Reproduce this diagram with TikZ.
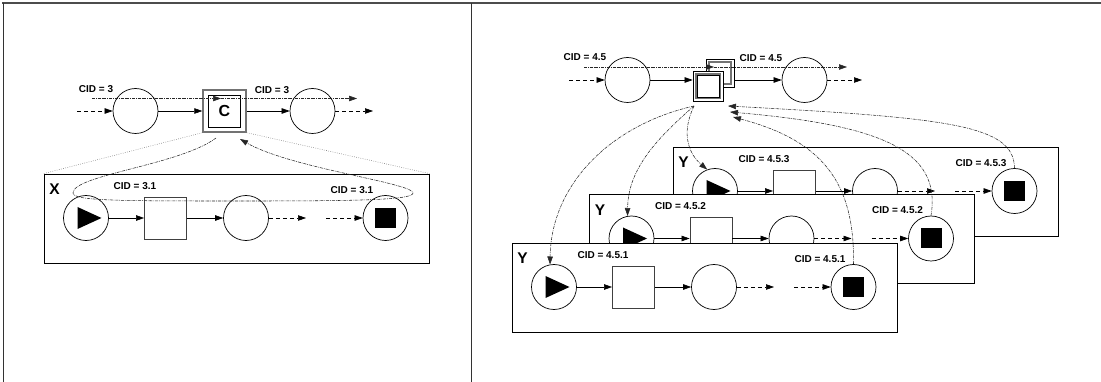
\documentclass[tikz,border=0pt]{standalone}
\usepackage{fontspec}
\setmainfont{Liberation Sans}
\usetikzlibrary{arrows.meta}
\newcommand{\chainbox}[6]{%
\begin{scope}[shift={(#2,#3)}]
\node[panel] (#1-box) at (192.5,44.5) {};
\node[biglbl] (#1-let) at (10.5,15.5) {#4};
\node[lbl] (#1-la) at (91,12) {#5};
\node[lbl] (#1-lb) at (308,16) {#6};
\node[circ] (#1-s) at (42,44) {};
\node[sqr] (#1-q) at (121.5,44) {};
\node[circ] (#1-m) at (202,44) {};
\node[circ] (#1-e) at (341.5,44) {};
\coordinate (#1-d1) at (262,44);
\coordinate (#1-d2) at (282,44);
\fill (33.5,33) -- (57.5,44) -- (33.5,55) -- cycle;
\fill (331,34) rectangle (352,54);
\draw[flow] (#1-s) -- (#1-q);
\draw[flow] (#1-q) -- (#1-m);
\draw[dflow] (#1-m) -- (#1-d1);
\draw[dflow] (#1-d2) -- (#1-e);
\end{scope}}
\begin{document}
\begin{tikzpicture}[x=1pt,y=-1pt,
  arr/.style={-{Triangle[length=8pt,width=5.5pt]}},
  circ/.style={circle,draw,line width=0.7pt,minimum size=45pt,inner sep=0pt},
  sqr/.style={rectangle,draw=black!75,line width=0.8pt,minimum width=42pt,minimum height=42pt,inner sep=0pt},
  panel/.style={rectangle,draw,line width=0.8pt,fill=white,minimum width=385pt,minimum height=89pt,inner sep=0pt},
  lbl/.style={font=\fontsize{10}{12}\selectfont\bfseries,inner sep=0pt},
  biglbl/.style={font=\fontsize{15.5}{17}\selectfont\bfseries,inner sep=0pt},
  flow/.style={line width=0.6pt,arr},
  dflow/.style={line width=0.6pt,arr,dash pattern=on 4pt off 3pt},
  dd/.style={line width=0.55pt,black!85,dash pattern=on 3pt off 1pt on 0.7pt off 1pt},
  dotl/.style={line width=0.5pt,black!55,dash pattern=on 0.7pt off 1.5pt},
  dbox/.style={rectangle,draw,line width=0.7pt,fill=white,inner sep=0pt},
]
\useasboundingbox (0,0) rectangle (1101,382);
% frame
\draw[black!70,line width=1.2pt] (2,3) -- (1101,3);
\draw[black!80,line width=0.8pt] (3,3) -- (3,382);
\draw[black!80,line width=0.8pt] (471,3) -- (471,382);

% ---------- left panel ----------
\node[circ] (L1) at (135.5,111) {};
\node[rectangle,draw=black!55,line width=1.4pt,minimum width=43pt,minimum height=42pt,inner sep=0pt] (C) at (224.5,111) {};
\node[rectangle,draw,line width=0.8pt,minimum size=32pt,inner sep=0pt,font=\fontsize{16}{18}\selectfont\bfseries] (Ci) at (C) {C};
\node[circ] (L2) at (312.5,111) {};
\coordinate (L0) at (77,111);
\coordinate (L3) at (373,111);
\draw[dflow] (L0) -- (L1);
\draw[flow] (L1) -- (C);
\draw[flow] (C) -- (L2);
\draw[dflow] (L2) -- (L3);
\node[lbl] (t1) at (96,89) {CID = 3};
\node[lbl] (t2) at (272,90) {CID = 3};
\coordinate (la) at (92,98.5);
\coordinate (lb) at (221,98.5);
\coordinate (lc) at (357,98.5);
\draw[dd,arr] (la) -- (lb);
\draw[dd,arr] (lb) -- (lc);

\chainbox{X}{44}{174}{X}{CID = 3.1}{CID = 3.1}
\draw[dotl] (C.south west) -- (X-box.north west);
\draw[dotl] (C.south east) -- (X-box.north east);
\coordinate (cout) at (216,138);
\coordinate (cin) at (240,139);
\draw[dd,arr] (cout) .. controls (180,165) and (73,175) .. (73,193)
  .. controls (73,201) and (120,201) .. (243,201)
  .. controls (360,201) and (413,200) .. (413,193)
  .. controls (413,183) and (290,168) .. (cin);

% ---------- right panel ----------
\node[circ] (R1) at (627.5,80) {};
\node[dbox,minimum size=28pt] (B) at (720,73) {};
\node[rectangle,draw=black!55,line width=1.1pt,minimum size=22pt,inner sep=0pt] (Bi) at (B) {};
\node[dbox,minimum size=30pt] (F) at (708,86) {};
\node[rectangle,draw=black!55,line width=1.1pt,minimum size=24pt,inner sep=0pt] (Fi) at (F) {};
\node[rectangle,draw,line width=0.4pt,minimum size=21.5pt,inner sep=0pt] (Fj) at (F) {};
\node[circ] (R2) at (804.5,80) {};
\coordinate (R0) at (569,80);
\coordinate (R3) at (862,80);
\draw[dflow] (R0) -- (R1);
\draw[flow] (R1) -- (R1 -| F.west);
\draw[flow] (R1 -| B.east) -- (R2);
\draw[dflow] (R2) -- (R3);
\node[lbl] (t3) at (585,57) {CID = 4.5};
\node[lbl] (t4) at (761,58) {CID = 4.5};
\coordinate (ra) at (584,67);
\coordinate (rb) at (714,67);
\coordinate (rc) at (847,67);
\draw[dd,arr] (ra) -- (rb);
\draw[dd,arr] (rb) -- (rc);

\chainbox{Y3}{673}{147}{Y}{CID = 4.5.3}{CID = 4.5.3}
\chainbox{Y2}{589.5}{194.5}{Y}{CID = 4.5.2}{CID = 4.5.2}
\chainbox{Y1}{512}{243}{Y}{CID = 4.5.1}{CID = 4.5.1}

\coordinate (fout) at (694,106);
\coordinate (rin1) at (728,106);
\coordinate (rin2) at (730,112);
\coordinate (rin3) at (733,117);
\draw[dd,arr] (fout) .. controls (610,125) and (551,185) .. (Y1-s.100);
\draw[dd,arr] (fout) .. controls (655,140) and (628,170) .. (Y2-s.100);
\draw[dd,arr] (fout) .. controls (680,135) and (690,155) .. (Y3-s.110);
\draw[dd,arr] (Y1-e.north) .. controls (855,180) and (820,140) .. (rin3);
\draw[dd,arr] (Y2-e.north) .. controls (942,150) and (880,125) .. (rin2);
\draw[dd,arr] (Y3-e.north) .. controls (1014,125) and (950,118) .. (rin1);
\end{tikzpicture}
\end{document}
